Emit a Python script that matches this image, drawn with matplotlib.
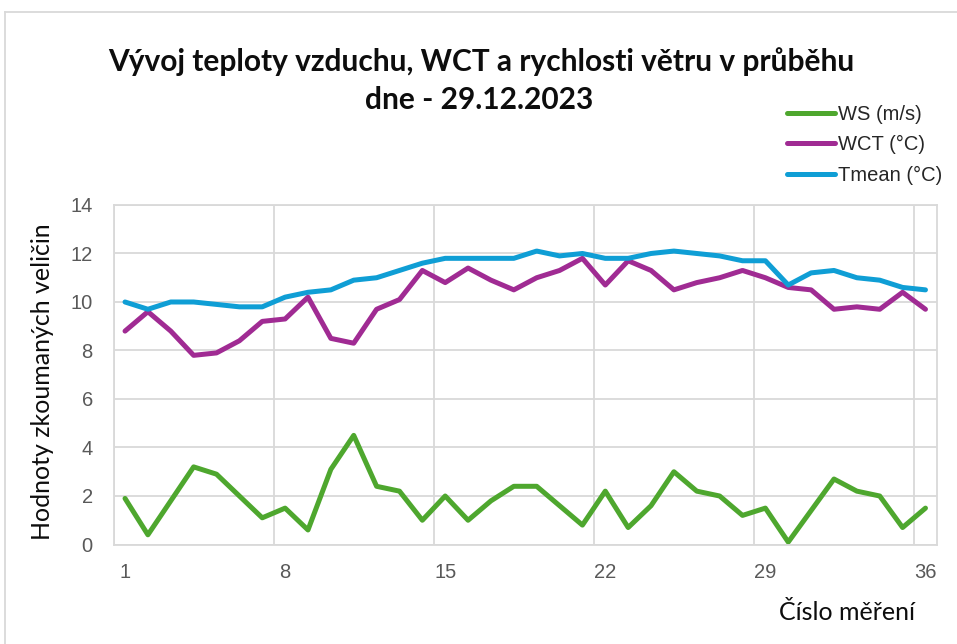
import matplotlib.pyplot as plt
from matplotlib.lines import Line2D
from matplotlib.ticker import FixedLocator, MultipleLocator

# cislo mereni 1..36
mereni = list(range(1, 37))

ws = [1.9, 0.4, 1.8, 3.2, 2.9, 2.0, 1.1, 1.5, 0.6, 3.1, 4.5, 2.4,
      2.2, 1.0, 2.0, 1.0, 1.8, 2.4, 2.4, 1.6, 0.8, 2.2, 0.7, 1.6,
      3.0, 2.2, 2.0, 1.2, 1.5, 0.1, 1.4, 2.7, 2.2, 2.0, 0.7, 1.5]

wct = [8.8, 9.6, 8.8, 7.8, 7.9, 8.4, 9.2, 9.3, 10.2, 8.5, 8.3, 9.7,
       10.1, 11.3, 10.8, 11.4, 10.9, 10.5, 11.0, 11.3, 11.8, 10.7, 11.7, 11.3,
       10.5, 10.8, 11.0, 11.3, 11.0, 10.6, 10.5, 9.7, 9.8, 9.7, 10.4, 9.7]

tmean = [10.0, 9.7, 10.0, 10.0, 9.9, 9.8, 9.8, 10.2, 10.4, 10.5, 10.9, 11.0,
         11.3, 11.6, 11.8, 11.8, 11.8, 11.8, 12.1, 11.9, 12.0, 11.8, 11.8, 12.0,
         12.1, 12.0, 11.9, 11.7, 11.7, 10.7, 11.2, 11.3, 11.0, 10.9, 10.6, 10.5]

x_labels = [1, 8, 15, 22, 29, 36]

grid_col = "#d9d9d9"
text_col = "#595959"

fig = plt.figure(figsize=(9.57, 6.44), dpi=100)
ax = fig.add_axes([0.1187, 0.1545, 0.979 - 0.1187, 0.6817 - 0.1545])

ax.plot(mereni, ws, color="#4ea72e", lw=3.6, label="WS (m/s)", solid_capstyle="round")
ax.plot(mereni, wct, color="#a02b93", lw=3.6, label="WCT (°C)", solid_capstyle="round")
ax.plot(mereni, tmean, color="#0f9ed5", lw=3.6, label="Tmean (°C)", solid_capstyle="round")

ax.set_xlim(0.5, 36.5)
ax.set_ylim(0, 14)
ax.yaxis.set_major_locator(MultipleLocator(2))
ax.set_xticks(x_labels)
ax.set_xticklabels([str(v) for v in x_labels])
# gridlines between categories like excel
ax.xaxis.set_minor_locator(FixedLocator([0.5, 7.5, 14.5, 21.5, 28.5, 35.5]))
ax.grid(axis="x", which="minor", color=grid_col, lw=1.3)
ax.grid(axis="y", which="major", color=grid_col, lw=1.3)
ax.set_axisbelow(True)
ax.tick_params(which="both", length=0)
ax.tick_params(axis="y", pad=15, labelsize=14.5, labelcolor=text_col)
ax.tick_params(axis="x", pad=13, labelsize=14.5, labelcolor=text_col)
for s in ax.spines.values():
    s.set_color(grid_col)
    s.set_linewidth(1.3)
for lab in ax.get_xticklabels() + ax.get_yticklabels():
    lab.set_family("Liberation Sans")

fig.text(481 / 957, 1 - 62 / 644, "Vývoj teploty vzduchu, WCT a rychlosti větru v průběhu",
         ha="center", va="center", fontsize=21.5, fontweight="bold", family="Lato", color="#0d0d0d")
fig.text(479 / 957, 1 - 100 / 644, "dne - 29.12.2023",
         ha="center", va="center", fontsize=21.5, fontweight="bold", family="Lato", color="#0d0d0d")

fig.text(43 / 957, 1 - 382 / 644, "Hodnoty zkoumaných veličin", rotation=90,
         ha="center", va="center", fontsize=18, family="Lato", color="#0d0d0d")
fig.text(915 / 957, 1 - 612 / 644, "Číslo měření",
         ha="right", va="center", fontsize=18, family="Lato", color="#0d0d0d")

leg = fig.legend(loc="upper left", bbox_to_anchor=(779 / 957, 1 - 96.5 / 644), frameon=False,
                 prop={"family": "Liberation Sans", "size": 14.5}, handlelength=2.4,
                 handletextpad=0.12, labelspacing=0.57, borderaxespad=0)
for t in leg.get_texts():
    t.set_color("#262626")

# light border of the chart area
fig.add_artist(Line2D([5 / 957, 5 / 957], [0, 1 - 12 / 644], color=grid_col, lw=1.3))
fig.add_artist(Line2D([5 / 957, 1], [1 - 12 / 644, 1 - 12 / 644], color=grid_col, lw=1.3))

fig.savefig("out.png", dpi=100)
